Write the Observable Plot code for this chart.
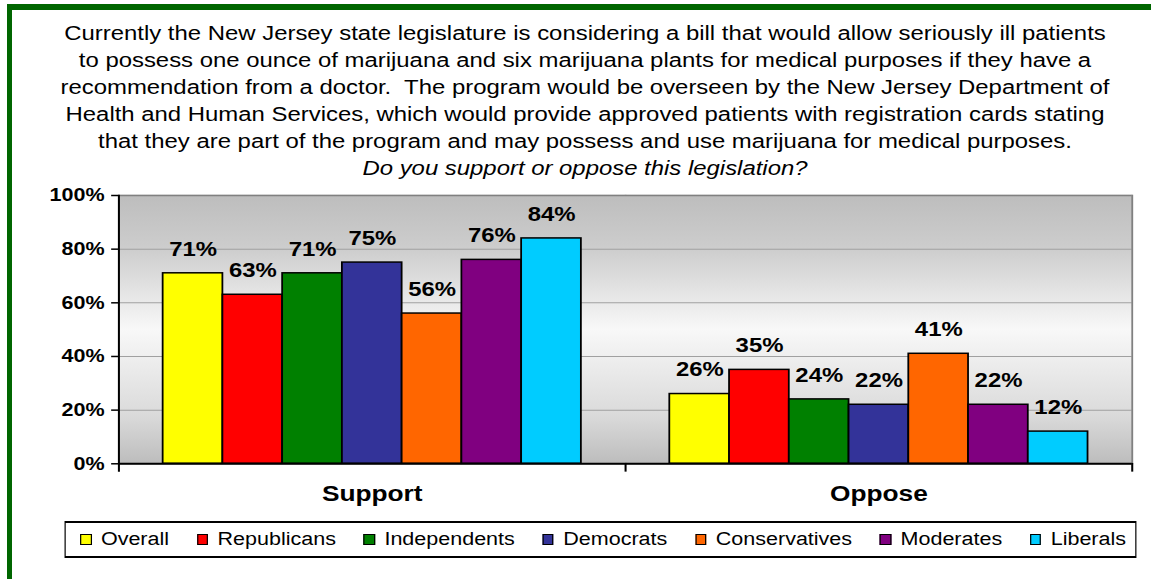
<!DOCTYPE html>
<html>
<head>
<meta charset="utf-8">
<script src="https://cdn.jsdelivr.net/npm/d3@7"></script>
<script src="https://cdn.jsdelivr.net/npm/@observablehq/plot@0.6"></script>
<style>
  html, body { margin: 0; padding: 0; background: #ffffff; }
  body { width: 1151px; height: 579px; overflow: hidden; position: relative; font-family: "Liberation Sans", Arial, sans-serif; color: #000; }
  .gb-top { position: absolute; left: 7px; top: 4px; width: 1144px; height: 6px; background: #006600; }
  .gb-left { position: absolute; left: 7px; top: 4px; width: 5px; height: 575px; background: #006600; }
  #wrap { position: absolute; left: 0; top: 0; height: 579px; transform-origin: 0 0; }
  #title { position: absolute; top: 20px; text-align: center; font-size: 20px; line-height: 27px; white-space: nowrap; }
  #title .q { font-style: italic; }
  #plot { position: absolute; left: 0; top: 180px; }
  #legend { position: absolute; top: 521px; height: 37px; box-sizing: border-box; border-style: solid; border-color: #000; border-width: 2px 1.7px; display: flex; align-items: center; }
  #legend .item { display: flex; align-items: center; font-size: 18px; white-space: nowrap; }
  #legend .sw { display: inline-block; box-sizing: border-box; border: 1.3px solid #000; }
</style>
</head>
<body>
<div class="gb-top"></div>
<div class="gb-left"></div>
<div id="wrap">
  <div id="title"></div>
  <div id="plot"></div>
  <div id="legend"></div>
</div>
<script>
// ---- data ----
const titleLines = [
  "Currently the New Jersey state legislature is considering a bill that would allow seriously ill patients",
  "to possess one ounce of marijuana and six marijuana plants for medical purposes if they have a",
  "recommendation from a doctor.  The program would be overseen by the New Jersey Department of",
  "Health and Human Services, which would provide approved patients with registration cards stating",
  "that they are part of the program and may possess and use marijuana for medical purposes."
];
const question = "Do you support or oppose this legislation?";
const responses = ["Support", "Oppose"];
const groups = ["Overall", "Republicans", "Independents", "Democrats", "Conservatives", "Moderates", "Liberals"];
const groupColors = ["#ffff00", "#ff0000", "#008000", "#333399", "#ff6600", "#800080", "#00ccff"];
const supportValues = [71, 63, 71, 75, 56, 76, 84];
const opposeValues = [26, 35, 24, 22, 41, 22, 12];
const yTicks = [0, 20, 40, 60, 80, 100];

// ---- layout (reference is horizontally stretched; draw in a narrower frame, then stretch) ----
const S = 1.195;
const W = 1151 / S;
const H = 335;
const mTop = 15, mBottom = 51.7, mLeft = 117 / S, mRight = W - 1132 / S;
const plotH = H - mTop - mBottom;

const wrap = document.getElementById("wrap");
wrap.style.width = W + "px";
wrap.style.transform = `scaleX(${S})`;

// title
const title = document.getElementById("title");
const titleCenter = 585 / S;
title.style.left = "0px";
title.style.width = (2 * titleCenter) + "px";
title.innerHTML = titleLines.map(l => l.replace(/  /g, "&nbsp; ")).join("<br>") + `<br><span class="q">${question}</span>`;

// table for the chart
const table = [];
responses.forEach((r, ri) => {
  const vals = ri === 0 ? supportValues : opposeValues;
  groups.forEach((g, gi) => table.push({response: r, group: g, value: vals[gi]}));
});

const chart = Plot.plot({
  width: W,
  height: H,
  marginTop: mTop,
  marginBottom: mBottom,
  marginLeft: mLeft,
  marginRight: mRight,
  style: {fontFamily: "'Liberation Sans', Arial, sans-serif", color: "#000", background: "transparent", overflow: "visible"},
  fx: {domain: responses, padding: 0},
  x: {domain: groups, paddingInner: 0, paddingOuter: 0.735, axis: null},
  y: {domain: [0, 100]},
  color: {domain: groups, range: groupColors},
  marks: [
    Plot.frame({fill: "url(#plotBg)", stroke: null, inset: -0.75}),
    Plot.ruleY(yTicks.slice(1, -1), {stroke: "#a0a0a0", strokeWidth: 1}),
    Plot.ruleY([100], {stroke: "#808080", strokeWidth: 1.5}),
    Plot.frame({anchor: "right", facetAnchor: "right", stroke: "#808080", strokeWidth: 1.5}),
    Plot.barY(table, {fx: "response", x: "group", y: "value", fill: "group", stroke: "#000", strokeWidth: 1.5}),
    Plot.text(table, {fx: "response", x: "group", y: "value", text: d => d.value + "%", dy: -24, fontSize: 20, fontWeight: "bold", fill: "#000"}),
    Plot.ruleY([0], {stroke: "#000", strokeWidth: 2}),
    Plot.frame({anchor: "left", facetAnchor: "left", stroke: "#000", strokeWidth: 1.7, insetBottom: -7}),
    Plot.frame({anchor: "right", stroke: "#000", strokeWidth: 1.7, insetTop: plotH, insetBottom: -7}),
    Plot.axisY({anchor: "left", ticks: yTicks, tickFormat: d => d + "%", tickSize: 6, tickPadding: 6, fontSize: 18, fontWeight: "bold", fill: "#000", stroke: "#000", strokeWidth: 1.5, label: null}),
    Plot.axisFx({anchor: "bottom", tickSize: 0, tickPadding: 22, fontSize: 22, fontWeight: "bold", fill: "#000", label: null})
  ]
});

// gradient background of the plotting area
const ns = "http://www.w3.org/2000/svg";
const defs = document.createElementNS(ns, "defs");
defs.innerHTML = `<linearGradient id="plotBg" x1="0" y1="0" x2="0" y2="1">
  <stop offset="0" stop-color="#bdbdbd"/>
  <stop offset="0.2" stop-color="#cdcdcd"/>
  <stop offset="0.5" stop-color="#f8f8f8"/>
  <stop offset="0.82" stop-color="#dadada"/>
  <stop offset="1" stop-color="#bcbcbc"/>
</linearGradient>`;
chart.insertBefore(defs, chart.firstChild);
document.getElementById("plot").appendChild(chart);

// legend
const legend = document.getElementById("legend");
legend.style.left = (64 / S) + "px";
legend.style.width = ((1137 - 64) / S) + "px";
legend.style.paddingLeft = (17 / S - 1.7) + "px";
legend.style.gap = "23.2px";
groups.forEach((g, i) => {
  const item = document.createElement("div");
  item.className = "item";
  const sw = document.createElement("span");
  sw.className = "sw";
  sw.style.width = (11.3 / S) + "px";
  sw.style.height = "11.3px";
  sw.style.marginRight = (9.5 / S) + "px";
  sw.style.background = groupColors[i];
  const lab = document.createElement("span");
  lab.textContent = g;
  item.appendChild(sw);
  item.appendChild(lab);
  legend.appendChild(item);
});
</script>
</body>
</html>
